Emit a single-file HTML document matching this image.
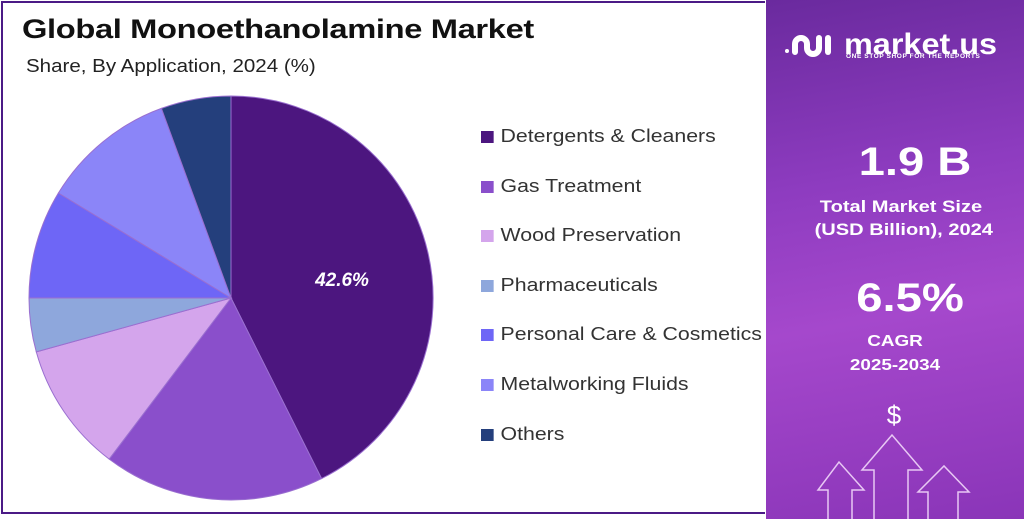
<!DOCTYPE html>
<html><head><meta charset="utf-8"><style>
body{margin:0;width:1024px;height:519px;overflow:hidden;background:#fff;font-family:"Liberation Sans",sans-serif;position:relative}
.frame{position:absolute;left:1px;top:1px;width:764px;height:513px;border:2px solid #4b1a86;border-right:none;box-sizing:border-box}
.title{position:absolute;left:22px;top:14px;font-size:27px;font-weight:bold;color:#111;letter-spacing:-0.3px;transform:scaleX(1.21);transform-origin:0 0}
.sub{position:absolute;left:26px;top:56px;font-size:18px;color:#222;transform:scaleX(1.14);transform-origin:0 0}
.leg{position:absolute;left:481px;font-size:18.5px;color:#333;line-height:20px;transform:scaleX(1.15);transform-origin:0 0}
.leg i{display:inline-block;width:11px;height:12px;margin-right:6px;vertical-align:-1px}
.panel{position:absolute;left:766px;top:0;width:258px;height:519px;background:linear-gradient(170deg,#6a2a9e 0%,#8e3cc0 35%,#a548cc 60%,#8a35b8 100%);color:#fff;text-align:center}
.panel div{position:absolute;width:100%;font-weight:bold}
.w{transform:scaleX(1.18)}
</style></head><body>
<div class="frame"></div>
<div class="title">Global Monoethanolamine Market</div>
<div class="sub">Share, By Application, 2024 (%)</div>
<svg style="position:absolute;left:0;top:0" width="766" height="519">
<g stroke="#9a6fd0" stroke-width="1">
<path d="M231,298 L231,96 A202,202 0 0 1 321.6,478.6 Z" fill="#4c167f"/>
<path d="M231,298 L321.6,478.6 A202,202 0 0 1 109.2,459.1 Z" fill="#8a4fcb"/>
<path d="M231,298 L109.2,459.1 A202,202 0 0 1 36.3,351.9 Z" fill="#d4a5ec"/>
<path d="M231,298 L36.3,351.9 A202,202 0 0 1 29,298 Z" fill="#8ea7dc"/>
<path d="M231,298 L29,298 A202,202 0 0 1 58.4,193 Z" fill="#6e66f6"/>
<path d="M231,298 L58.4,193 A202,202 0 0 1 161.4,108.4 Z" fill="#8b85f8"/>
<path d="M231,298 L161.4,108.4 A202,202 0 0 1 231,96 Z" fill="#243f7c"/>
</g>
<text x="342" y="286" fill="#fff" font-size="19" font-weight="bold" font-style="italic" text-anchor="middle" font-family="Liberation Sans">42.6%</text>
</svg>
<div class="leg" style="top:126px"><i style="background:#4c167f"></i>Detergents &amp; Cleaners</div>
<div class="leg" style="top:176px"><i style="background:#8a4fcb"></i>Gas Treatment</div>
<div class="leg" style="top:225px"><i style="background:#d4a5ec"></i>Wood Preservation</div>
<div class="leg" style="top:275px"><i style="background:#8ea7dc"></i>Pharmaceuticals</div>
<div class="leg" style="top:324px"><i style="background:#6e66f6"></i>Personal Care &amp; Cosmetics</div>
<div class="leg" style="top:374px"><i style="background:#8b85f8"></i>Metalworking Fluids</div>
<div class="leg" style="top:424px"><i style="background:#243f7c"></i>Others</div>
<div class="panel">
<svg style="position:absolute;left:16px;top:30px" width="62" height="30" fill="none" stroke="#fff" stroke-width="6" stroke-linecap="round">
<circle cx="5" cy="21" r="2" fill="#fff" stroke="none"/>
<path d="M13,22 V14 A6,6 0 0 1 25,14 V18 A6,6 0 0 0 37,18 V8"/>
<path d="M46,8 V22"/>
</svg>
<div style="top:28px;font-size:30px;left:78px;width:auto;text-align:left;transform:scaleX(1.08);transform-origin:0 0">market.us</div>
<div style="top:53px;font-size:6.5px;left:80px;width:auto;text-align:left;letter-spacing:0.6px">ONE STOP SHOP FOR THE REPORTS</div>
<div class="w" style="top:140px;font-size:40px;left:20px">1.9 B</div>
<div class="w" style="top:195px;font-size:17px;line-height:23px;left:6px">Total Market Size<br>&nbsp;(USD Billion), 2024</div>
<div class="w" style="top:276px;font-size:40px;left:15px">6.5%</div>
<div class="w" style="top:330px;font-size:16px;line-height:24px;left:0px">CAGR<br>2025-2034</div>
<div style="top:400px;font-size:26px;font-weight:normal;left:-1px">$</div>
<svg style="position:absolute;left:40px;top:430px" width="170" height="89" fill="none" stroke="#e8c8f4" stroke-width="1.5">
<path d="M22,89 V60 H12 L33,32 L58,60 H46 V89"/>
<path d="M68,89 V40 H56 L86,5 L116,40 H102 V89"/>
<path d="M122,89 V62 H112 L138,36 L163,62 H152 V89"/>
</svg>
</div>
</body></html>
